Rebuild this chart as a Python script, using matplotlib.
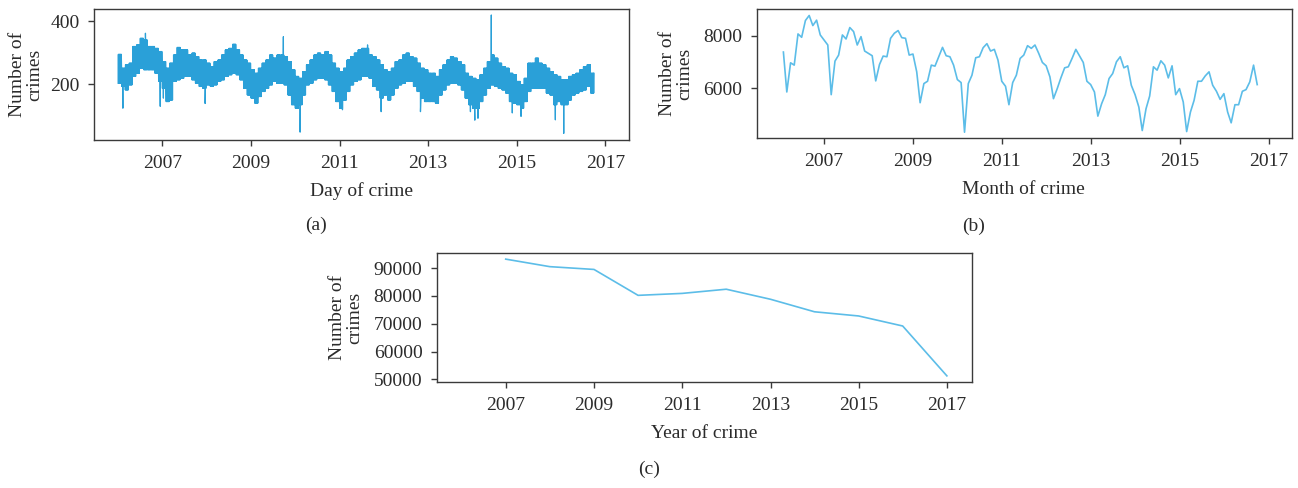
import matplotlib
matplotlib.use("Agg")
import matplotlib.pyplot as plt
import pandas as pd
from datetime import datetime

plt.rcParams["font.family"] = ["Liberation Serif", "DejaVu Serif"]
TEXT = "#2b2b2b"
EDGE = "#3a3a3a"
DAY_COLOR = "#2aa0d8"
LINE_COLOR = "#5cbde8"

# ---- daily crimes: typical low / high daily count for each month (Jan 2006 - Sep 2016)
daily_low = [
    203, 193, 182, 198, 225, 235, 251, 246, 246, 246, 235, 209,
    187, 145, 150, 209, 214, 219, 225, 225, 214, 203, 193, 187,
    198, 193, 198, 209, 214, 225, 230, 235, 230, 214, 187, 166,
    156, 140, 161, 177, 187, 198, 209, 203, 203, 198, 166, 135,
    124, 135, 166, 198, 203, 214, 219, 219, 214, 198, 177, 145,
    124, 150, 177, 198, 209, 214, 225, 225, 219, 193, 182, 156,
    166, 150, 166, 187, 198, 203, 209, 209, 193, 177, 156, 145,
    145, 145, 140, 166, 182, 198, 203, 203, 198, 182, 156, 135,
    124, 124, 145, 166, 187, 198, 193, 187, 182, 172, 145, 140,
    135, 124, 145, 177, 187, 187, 187, 187, 172, 166, 135, 145,
    135, 135, 150, 166, 172, 177, 182, 193, 172,
]
daily_high = [
    295, 251, 262, 267, 320, 325, 346, 341, 320, 320, 314, 304,
    272, 251, 267, 293, 317, 309, 309, 293, 299, 288, 277, 277,
    267, 256, 272, 277, 293, 309, 314, 327, 309, 293, 277, 267,
    246, 235, 251, 267, 277, 293, 283, 293, 293, 288, 272, 246,
    225, 219, 240, 262, 277, 293, 299, 293, 304, 293, 267, 251,
    240, 251, 277, 288, 299, 309, 314, 314, 293, 288, 277, 262,
    246, 240, 251, 272, 277, 293, 299, 288, 283, 267, 251, 246,
    235, 235, 225, 246, 262, 277, 288, 283, 272, 262, 235, 225,
    219, 214, 230, 251, 272, 293, 283, 267, 256, 251, 235, 230,
    209, 198, 219, 267, 267, 283, 267, 262, 251, 240, 230, 225,
    214, 214, 225, 230, 235, 246, 256, 262, 235,
]
# single-day outliers
spike_dates = ["2006-02-10", "2006-08-15", "2006-12-15", "2007-01-10", "2007-12-20",
               "2009-09-25", "2010-02-10", "2011-01-25", "2011-08-20", "2011-12-10",
               "2012-10-29", "2013-12-15", "2014-01-20", "2014-02-15", "2014-06-05",
               "2014-11-25", "2015-02-05", "2015-11-15", "2016-01-23"]
spike_values = [124, 362, 130, 156, 139, 351, 48, 119, 325, 113,
                113, 113, 86, 92, 420, 109, 98, 87, 44]

# ---- monthly totals (Jan 2006 - Sep 2016)
monthly_counts = [
    7385, 5859, 6974, 6885, 8077, 7949, 8590, 8782, 8397, 8603, 8038, 7846,
    7654, 5756, 7038, 7269, 8038, 7885, 8321, 8167, 7654, 7974, 7423, 7333,
    7244, 6282, 6910, 7231, 7205, 7910, 8103, 8205, 7936, 7910, 7269, 7308,
    6628, 5449, 6180, 6269, 6885, 6846, 7205, 7564, 7244, 7205, 6885, 6333,
    6218, 4321, 6180, 6500, 7167, 7205, 7551, 7705, 7423, 7487, 7077, 6269,
    6077, 5372, 6218, 6500, 7141, 7269, 7628, 7526, 7654, 7333, 6987, 6859,
    6436, 5603, 5987, 6397, 6782, 6821, 7141, 7487, 7244, 6987, 6269, 6141,
    5859, 4936, 5410, 5756, 6372, 6564, 7013, 7205, 6782, 6859, 6115, 5756,
    5282, 4385, 5218, 5705, 6821, 6692, 7051, 6885, 6397, 6859, 5756, 5987,
    5474, 4346, 5090, 5538, 6269, 6269, 6474, 6628, 6115, 5885, 5577, 5795,
    5090, 4680, 5372, 5372, 5885, 5949, 6244, 6885, 6141,
]

# ---- yearly totals (2006 - 2016)
years = list(range(2006, 2017))
yearly_counts = [93200, 90500, 89500, 80200, 80900, 82400, 78800, 74300, 72800, 69200, 51300]

tick_years = [2007, 2009, 2011, 2013, 2015, 2017]

month_start = pd.date_range("2006-01-01", periods=len(monthly_counts), freq="MS")
month_end = month_start + pd.offsets.MonthEnd(0)
year_end = [datetime(y, 12, 31) for y in years]

# daily series: alternate each month's low and high readings, then add the outliers
d_dates, d_vals = [], []
for ms, lo, hi in zip(month_start, daily_low, daily_high):
    for off in range(0, 28, 2):
        d_dates.append(ms + pd.Timedelta(days=off + 1))
        d_vals.append(lo if (off // 2) % 2 == 0 else hi)
daily = pd.Series(d_vals, index=pd.DatetimeIndex(d_dates))
spikes = pd.Series(spike_values, index=pd.to_datetime(spike_dates))
daily = pd.concat([daily, spikes]).sort_index()

W, H = 1298, 488
fig = plt.figure(figsize=(W / 100, H / 100), dpi=100)


def axes_px(left, top, right, bottom):
    return fig.add_axes([left / W, 1 - bottom / H, (right - left) / W, (bottom - top) / H])


def style(ax, ylab_x):
    for s in ax.spines.values():
        s.set_color(EDGE)
        s.set_linewidth(1.0)
    ax.tick_params(direction="out", length=4.5, width=1.0, color=EDGE,
                   labelcolor=TEXT, labelsize=14, pad=6)
    ax.set_xticks([datetime(y, 1, 1) for y in tick_years])
    ax.set_xticklabels([str(y) for y in tick_years])
    ax.set_ylabel("Number of\ncrimes", fontsize=14, color=TEXT, linespacing=1.0)
    ax.yaxis.set_label_coords(ylab_x, 0.5)


# (a) daily
ax1 = axes_px(94, 9, 629, 140)
ax1.plot(daily.index, daily.values, color=DAY_COLOR, lw=0.9)
ax1.set_xlim(datetime(2005, 6, 17), datetime(2017, 7, 14))
ax1.set_ylim(23, 439)
ax1.set_yticks([200, 400])
style(ax1, -0.095)

# (b) monthly
ax2 = axes_px(757, 9, 1292, 138)
ax2.plot(month_end, monthly_counts, color=LINE_COLOR, lw=1.2)
ax2.set_xlim(datetime(2005, 6, 28), datetime(2017, 7, 13))
ax2.set_ylim(4100, 9030)
ax2.set_yticks([6000, 8000])
style(ax2, -0.12)

# (c) yearly
ax3 = axes_px(437, 253, 972, 382)
ax3.plot(year_end, yearly_counts, color=LINE_COLOR, lw=1.2)
ax3.set_xlim(datetime(2005, 6, 10), datetime(2017, 7, 27))
ax3.set_ylim(49100, 95400)
ax3.set_yticks([50000, 60000, 70000, 80000, 90000])
style(ax3, -0.138)


def ftext(x, y, s):
    fig.text(x / W, 1 - y / H, s, ha="center", va="center", fontsize=14, color=TEXT)


ftext(361, 191, "Day of crime")
ftext(316, 225, "(a)")
ftext(1023, 189, "Month of crime")
ftext(974, 226, "(b)")
ftext(704, 434, "Year of crime")
ftext(649, 469, "(c)")

fig.savefig("out.png", dpi=100)
